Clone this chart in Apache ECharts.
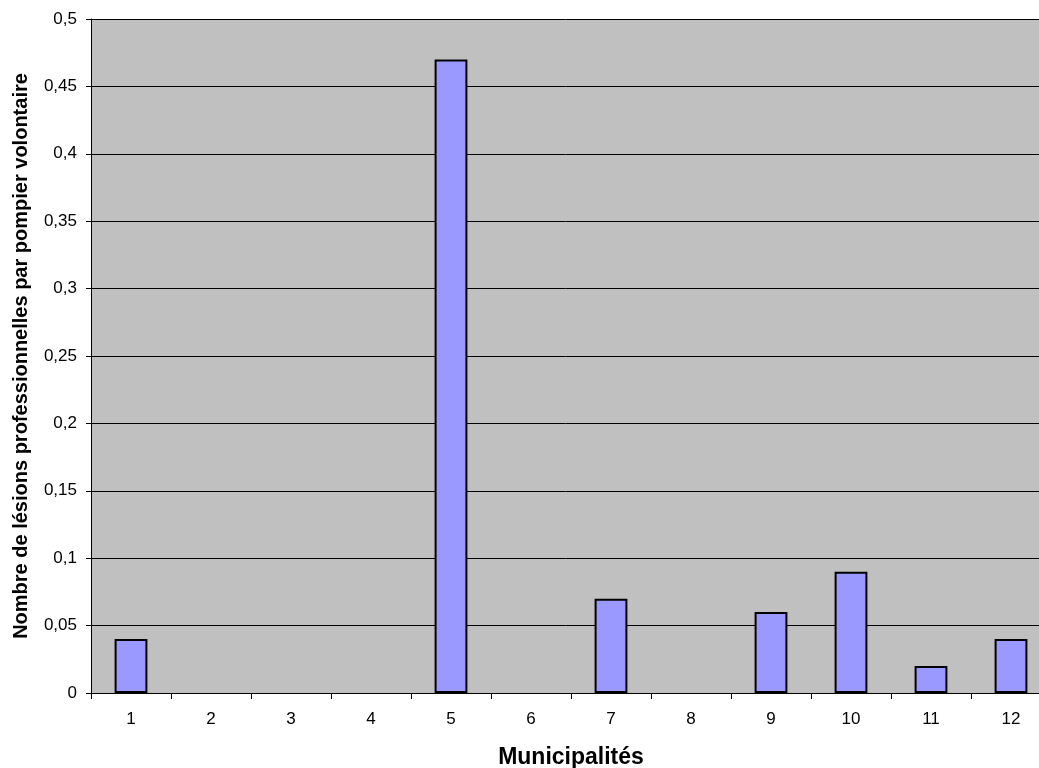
<!DOCTYPE html>
<html>
<head>
<meta charset="utf-8">
<script src="https://cdn.jsdelivr.net/npm/echarts@6/dist/echarts.min.js"></script>
<style>
  html, body { margin: 0; padding: 0; background: #fff; overflow: hidden; }
  #chart { width: 1039px; height: 768px; }
</style>
</head>
<body>
<div id="chart"></div>
<script>
// Municipalities and injury rate per volunteer firefighter
const municipalites = ['1', '2', '3', '4', '5', '6', '7', '8', '9', '10', '11', '12'];
const lesionsParPompier = [0.04, 0, 0, 0, 0.47, 0, 0.07, 0, 0.06, 0.09, 0.02, 0.04];

const chart = echarts.init(document.getElementById('chart'));
const font = '"Liberation Sans", Arial, sans-serif';
const fmt = v => String(v).replace('.', ',');

// zero-height bars get no outline so the axis line stays clean
const barData = lesionsParPompier.map(v => v === 0 ? { value: v, itemStyle: { borderWidth: 0 } } : v);

chart.setOption({
  animation: false,
  // plot area runs slightly past the right edge of the canvas
  grid: {
    left: 91, right: -12, top: 19, bottom: 75,
    outerBoundsMode: 'none', containLabel: false,
    backgroundColor: '#c0c0c0', show: true, borderWidth: 0
  },
  xAxis: {
    type: 'category',
    data: municipalites,
    name: 'Municipalités',
    nameLocation: 'middle',
    nameGap: 53,
    nameTextStyle: { fontFamily: font, fontSize: 23, fontWeight: 'bold', color: '#000' },
    axisLine: { lineStyle: { color: '#000', width: 1 } },
    axisTick: { show: true, length: 6, lineStyle: { color: '#000' } },
    axisLabel: { fontFamily: font, fontSize: 17, color: '#000', margin: 18 },
    splitLine: { show: false }
  },
  yAxis: {
    type: 'value',
    min: 0,
    max: 0.5,
    interval: 0.05,
    name: 'Nombre de lésions professionnelles par pompier volontaire',
    nameLocation: 'middle',
    nameGap: 60,
    nameTextStyle: { fontFamily: font, fontSize: 20, fontWeight: 'bold', color: '#000' },
    axisLine: { show: true, lineStyle: { color: '#000', width: 1 } },
    axisTick: { show: true, length: 5, inside: false, lineStyle: { color: '#000' } },
    axisLabel: { fontFamily: font, fontSize: 17, color: '#000', margin: 14, formatter: v => fmt(+v.toFixed(2)) },
    splitLine: { show: true, lineStyle: { color: '#000', width: 1 } }
  },
  series: [{
    type: 'bar',
    data: barData,
    barWidth: '41%',
    itemStyle: { color: '#9999ff', borderColor: '#000', borderWidth: 2 }
  }]
});
</script>
</body>
</html>
